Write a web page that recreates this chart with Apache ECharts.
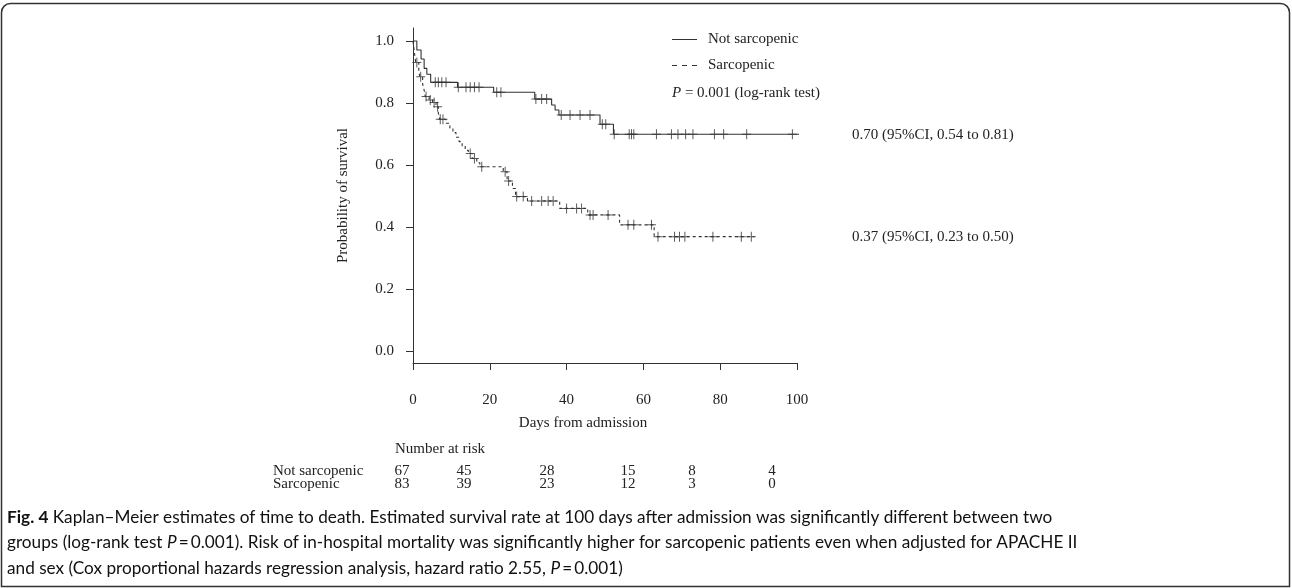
<!DOCTYPE html>
<html>
<head>
<meta charset="utf-8">
<script src="https://cdn.jsdelivr.net/npm/echarts@6/dist/echarts.min.js"></script>
<style>
html,body{margin:0;padding:0;background:#fff;}
#chart{width:1292px;height:588px;}
</style>
</head>
<body>
<div id="chart"></div>
<script>
// ---- Data ----
const groupNames = ['Not sarcopenic', 'Sarcopenic'];
// Kaplan–Meier step points: [day, survival]
const notSarcEvents = [[0,1],[1.0,0.971],[2.1,0.942],[2.9,0.912],[3.6,0.893],[4.6,0.867],[11.6,0.851],[21.0,0.835],[31.7,0.813],[36.1,0.794],[37.0,0.778],[38.0,0.762],[48.7,0.732],[52.2,0.70]];
const notSarcEnd = 108.2;
const notSarcCensor = [5.8,6.6,7.5,8.6,11.8,13.8,14.9,16.0,17.2,21.8,22.9,32.0,33.5,34.8,38.6,40.9,43.5,46.1,49.3,50.2,52.4,56.3,56.9,57.5,63.4,67.3,69.0,71.0,72.9,78.5,80.9,86.9,98.8];
const sarcEvents = [[0,1],[0.4,0.96],[0.7,0.931],[1.5,0.90],[1.8,0.885],[2.5,0.862],[2.9,0.842],[3.2,0.821],[4.2,0.81],[5.1,0.802],[6.0,0.788],[6.6,0.768],[7.0,0.748],[8.6,0.735],[9.6,0.72],[10.4,0.705],[11.2,0.69],[12.0,0.676],[12.8,0.662],[13.6,0.648],[14.4,0.638],[15.4,0.622],[16.6,0.608],[17.4,0.595],[23.5,0.579],[24.5,0.549],[25.9,0.525],[26.7,0.499],[29.8,0.485],[38.2,0.461],[45.5,0.44],[53.8,0.408],[62.8,0.37]];
const sarcEnd = 88.9;
const sarcCensor = [1.0,2.0,3.4,4.5,5.5,6.4,7.1,7.8,14.9,16.0,17.9,24.0,24.9,27.0,28.7,30.9,33.5,35.2,36.5,40.0,42.6,43.9,46.1,46.9,50.8,56.0,57.5,62.1,63.8,68.1,69.4,70.8,78.1,85.5,88.1];
const xTicks = [0,20,40,60,80,100];
const yTicks = [0,0.2,0.4,0.6,0.8,1.0];
const riskNotSarc = [67,45,28,15,8,4];
const riskSarc = [83,39,23,12,3,0];
const ciLabels = ['0.70 (95%CI, 0.54 to 0.81)', '0.37 (95%CI, 0.23 to 0.50)'];
const pText = '= 0.001 (log-rank test)';
const captionLines = [
  '{b|Fig. 4} Kaplan\u2013Meier estimates of time to death. Estimated survival rate at 100 days after admission was significantly different between two',
  'groups (log-rank test {i|P}\u2009=\u20090.001). Risk of in-hospital mortality was significantly higher for sarcopenic patients even when adjusted for APACHE II',
  'and sex (Cox proportional hazards regression analysis, hazard ratio 2.55, {i|P}\u2009=\u20090.001)'
];

// ---- helpers ----
function survAt(events, t){ let s = events[0][1]; for (const e of events){ if (e[0] <= t) s = e[1]; } return s; }
function lineData(events, end){ return events.concat([[end, events[events.length-1][1]]]); }
function censorData(events, times){ return times.map(t => [t, survAt(events, t)]); }

const SERIF = 'Liberation Serif';
const INK = '#222';
const plus = 'path://M4,0h1v10h-1zM0,4.5h9v1h-9z';
const solidIcon = 'path://M0,0h25v1h-25z';
const dashIcon = 'path://M0,0h5v1h-5zM10,0h5v1h-5zM20,0h5v1h-5z';

// layout (pixels)
const riskColX = [402, 464, 547, 628, 692, 772];
const gridLeft = 413, gridRight = 797, gridTop = 28, gridBottom = 363;
const CAP_SIZE = 17.2;

const chart = echarts.init(document.getElementById('chart'), null, {renderer:'canvas'});

const graphics = [
  {type:'rect', shape:{x:1.5, y:3.5, width:1288, height:583, r:[9,9,0,0]}, style:{fill:'none', stroke:'#333', lineWidth:1.5}, silent:true},
  {type:'text', x:672, y:93, style:{text:'{i|P} ' + pText, font:'15px "Liberation Serif"', fill:INK, verticalAlign:'middle', rich:{i:{fontStyle:'italic', fontFamily:SERIF, fontSize:15, fill:INK}}}},
  {type:'text', x:852, y:135, style:{text:ciLabels[0], font:'15px "Liberation Serif"', fill:INK, verticalAlign:'middle'}},
  {type:'text', x:852, y:237, style:{text:ciLabels[1], font:'15px "Liberation Serif"', fill:INK, verticalAlign:'middle'}},
  {type:'text', x:395, y:449, style:{text:'Number at risk', font:'15px "Liberation Serif"', fill:INK, verticalAlign:'middle'}},
  {type:'text', x:273, y:471, style:{text:groupNames[0], font:'15px "Liberation Serif"', fill:INK, verticalAlign:'middle'}},
  {type:'text', x:273, y:484, style:{text:groupNames[1], font:'15px "Liberation Serif"', fill:INK, verticalAlign:'middle'}}
];
riskNotSarc.forEach((v,i)=>graphics.push({type:'text', x:riskColX[i], y:471, style:{text:String(v), font:'15px "Liberation Serif"', fill:INK, align:'center', verticalAlign:'middle'}}));
riskSarc.forEach((v,i)=>graphics.push({type:'text', x:riskColX[i], y:484, style:{text:String(v), font:'15px "Liberation Serif"', fill:INK, align:'center', verticalAlign:'middle'}}));
captionLines.forEach((t,i)=>graphics.push({type:'text', x:7, y:517 + i*25.5, style:{text:t, font:CAP_SIZE + 'px Lato', fill:'#111', verticalAlign:'middle',
  rich:{b:{fontWeight:'bold', fontFamily:'Lato', fontSize:CAP_SIZE, fill:'#111'}, i:{fontStyle:'italic', fontFamily:'Lato', fontSize:CAP_SIZE, fill:'#111'}}}}));

const option = {
  animation:false,
  backgroundColor:'#fff',
  grid:{left:gridLeft, right:1292-gridRight, top:gridTop, bottom:588-gridBottom, containLabel:false},
  legend:{
    data:[{name:groupNames[0], icon:solidIcon}, {name:groupNames[1], icon:dashIcon}],
    orient:'vertical', left:667, top:27, itemWidth:25, itemHeight:1.2, itemGap:11,
    itemStyle:{color:'#333'},
    textStyle:{fontFamily:SERIF, fontSize:15, color:INK, padding:[0,0,0,6]}
  },
  xAxis:{
    type:'value', min:0, max:100, interval:20,
    name:'Days from admission', nameLocation:'middle', nameGap:53,
    nameTextStyle:{fontFamily:SERIF, fontSize:15, color:INK, padding:[0,44,0,0]},
    axisLine:{show:true, onZero:false, lineStyle:{color:'#333', width:1}},
    axisTick:{show:true, length:7, inside:false, lineStyle:{color:'#333'}},
    axisLabel:{fontFamily:SERIF, fontSize:15, color:INK, margin:30, formatter:v=>String(v)},
    splitLine:{show:false}
  },
  yAxis:{
    type:'value', min:-0.037, max:1.042,
    name:'Probability of survival', nameLocation:'middle', nameGap:62, nameRotate:90,
    nameTextStyle:{fontFamily:SERIF, fontSize:15, color:INK},
    axisLine:{show:true, onZero:false, lineStyle:{color:'#333', width:1}},
    axisTick:{show:true, length:7, customValues:yTicks, lineStyle:{color:'#333'}},
    axisLabel:{fontFamily:SERIF, fontSize:15, color:INK, margin:19, customValues:yTicks, formatter:v=>v.toFixed(1)},
    splitLine:{show:false}
  },
  series:[
    {name:groupNames[0], type:'line', step:'end', data:lineData(notSarcEvents, notSarcEnd), symbol:'none', clip:false,
      lineStyle:{color:'#333', width:1.1, type:'solid'}, itemStyle:{color:'#333'}},
    {name:groupNames[1], type:'line', step:'end', data:lineData(sarcEvents, sarcEnd), symbol:'none', clip:false,
      lineStyle:{color:'#333', width:1.1, type:[3,3]}, itemStyle:{color:'#333'}},
    {name:'ns-censor', type:'scatter', data:censorData(notSarcEvents, notSarcCensor), symbol:plus, symbolSize:[9,10], clip:false,
      itemStyle:{color:'#333'}},
    {name:'s-censor', type:'scatter', data:censorData(sarcEvents, sarcCensor), symbol:plus, symbolSize:[9,10], clip:false,
      itemStyle:{color:'#333'}}
  ],
  graphic:graphics
};
chart.setOption(option);
</script>
</body>
</html>
